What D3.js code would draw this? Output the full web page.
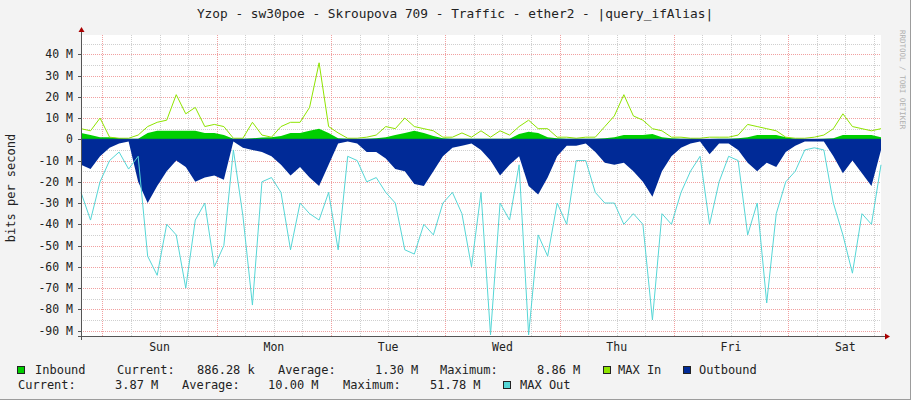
<!DOCTYPE html>
<html>
<head>
<meta charset="utf-8">
<script src="https://cdn.jsdelivr.net/npm/d3@7"></script>
<style>
  body { margin: 0; background: #f3f3f3; }
  svg { display: block; font-family: "DejaVu Sans Mono", monospace; }
</style>
</head>
<body>
<svg width="911" height="400"></svg>
<script>
// hours from start of graph, 2h steps, 0..168
const hours = d3.range(0, 169, 2);
const inbound = [3,2,1,1,0.5,0.3,0.3,3,4,4,4,4,4,3,3,2,0.3,0.3,0.5,0.8,1,1.5,3,3,4,5,3,0.5,0.3,0.2,0.3,0.5,1,2,3,4,3,1.5,0.5,0.3,0.3,0.3,0.3,0.3,0.3,0.3,2.5,3.5,3,1,0.5,0.3,0.3,0.3,0.3,0.5,1,2,2,2,2.5,1,0.5,0.3,0.3,0.2,0.2,0.3,0.3,0.5,1,2,2,2,1,0.3,0.2,0.2,0.3,0.5,2,2,2,2,1];
const maxIn = [5,4,10,1,0.5,0.5,2,6,8,9,21,12,15,6,7,6,0.5,0.5,8,2,1,6,8,8,15,36,6,3,0.5,0.5,1,2,6,5,10,6,5,4,1,1,3,1,4,1,4,2,6,9,5,5,1,1,0.5,1,1,6,11,21,11,9,5,4,1,1,0.5,0.5,1,1,1,2,7,6,5,4,1,0.5,0.5,1,2,5,12,6,5,4,5];
const outbound = [12,14,8,4,2,1,20,30,22,15,10,13,20,18,17,19,1,4,5,6,8,12,17,13,18,22,12,2,1,2,6,6,9,14,15,21,22,15,8,4,3,2,5,10,17,12,8,22,26,18,8,3,3,2,6,11,12,11,15,20,27,15,8,4,2,1,7,2,2,5,11,15,11,13,6,3,1,1,1,8,16,10,16,22,5];
const maxOut = [25,38,20,10,6,14,8,55,64,40,45,70,38,30,60,50,5,36,78,20,18,25,52,30,35,38,25,52,8,10,20,18,25,30,52,54,40,45,30,25,35,60,25,92,30,38,12,92,45,55,30,40,10,10,25,30,30,40,35,40,85,35,40,25,15,8,40,20,8,10,45,30,77,35,20,15,5,4,5,30,45,63,35,40,12];
const yTicks = [40,30,20,10,0,-10,-20,-30,-40,-50,-60,-70,-80,-90];
const days = ["Sun","Mon","Tue","Wed","Thu","Fri","Sat"];
const firstMidnight = 4.5; // hours after graph start

const svg = d3.select("svg");
const L = 81, R = 881, T = 35, B = 336;

const x = d3.scaleLinear().domain([0, 168]).range([L, R]);
const y = d3.scaleLinear().domain([0, 40]).range([139.3, 54.3]);

// frame
svg.append("rect").attr("x", 0).attr("y", 0).attr("width", 911).attr("height", 400).attr("fill", "#f3f3f3");
svg.append("line").attr("x1", 910.5).attr("x2", 910.5).attr("y1", 0).attr("y2", 400).attr("stroke", "#9c9c9c");
svg.append("line").attr("x1", 0).attr("x2", 911).attr("y1", 399.5).attr("y2", 399.5).attr("stroke", "#9c9c9c");
svg.append("rect").attr("x", L).attr("y", T).attr("width", R - L).attr("height", B - T).attr("fill", "#fff");

const grid = svg.append("g");
// minor horizontal every 5M
d3.range(-95, 50, 5).forEach(v => {
  if (y(v) < T || y(v) > B) return;
  const major = v % 10 === 0;
  grid.append("line").attr("x1", L).attr("x2", R).attr("y1", Math.round(y(v)) + 0.5).attr("y2", Math.round(y(v)) + 0.5)
    .attr("stroke", major ? "#f1a0a0" : "#cfcfcf").attr("stroke-dasharray", "1,1");
});
// vertical every 6h
d3.range(firstMidnight - 0, 168, 6).forEach(h => {
  const major = Math.abs((h - firstMidnight) % 24) < 0.01;
  grid.append("line").attr("x1", Math.round(x(h)) + 0.5).attr("x2", Math.round(x(h)) + 0.5).attr("y1", T).attr("y2", B)
    .attr("stroke", major ? "#f1a0a0" : "#cfcfcf").attr("stroke-dasharray", "1,1");
});

const idx = d3.range(hours.length);
const inArea = d3.area().x(i => x(hours[i])).y0(y(0)).y1(i => y(inbound[i]));
const outArea = d3.area().x(i => x(hours[i])).y0(y(0)).y1(i => y(-outbound[i]));
const maxInLine = d3.line().x(i => x(hours[i])).y(i => y(maxIn[i]));
const maxOutLine = d3.line().x(i => x(hours[i])).y(i => y(-maxOut[i]));

svg.append("path").datum(idx).attr("d", inArea).attr("fill", "#00cf00");
svg.append("path").datum(idx).attr("d", maxInLine).attr("fill", "none").attr("stroke", "#8ee400").attr("stroke-width", 1);
svg.append("path").datum(idx).attr("d", outArea).attr("fill", "#002a97");
svg.append("path").datum(idx).attr("d", maxOutLine).attr("fill", "none").attr("stroke", "#55d6d6").attr("stroke-width", 1);
svg.append("line").attr("x1", L).attr("x2", R).attr("y1", y(0)).attr("y2", y(0)).attr("stroke", "#002a97").attr("stroke-width", 1);

// axes
svg.append("line").attr("x1", L - 3).attr("x2", R + 4).attr("y1", B + 0.5).attr("y2", B + 0.5).attr("stroke", "#555");
svg.append("line").attr("x1", L + 0.5).attr("x2", L + 0.5).attr("y1", T - 3).attr("y2", B + 4).attr("stroke", "#555");
svg.append("path").attr("d", `M${R + 4},${B - 2.5}L${R + 9},${B + 0.5}L${R + 4},${B + 3.5}Z`).attr("fill", "#a00");
svg.append("path").attr("d", `M${L - 2.5},${T - 3}L${L + 0.5},${T - 8}L${L + 3.5},${T - 3}Z`).attr("fill", "#a00");

yTicks.forEach(v => {
  svg.append("text").attr("x", 73).attr("y", y(v) + 4).attr("text-anchor", "end").attr("font-size", 11.5).attr("fill", "#222")
    .text(v === 0 ? "0" : v + " M");
  svg.append("line").attr("x1", L - 3).attr("x2", L).attr("y1", Math.round(y(v)) + 0.5).attr("y2", Math.round(y(v)) + 0.5).attr("stroke", "#555");
});
days.forEach((d, i) => {
  svg.append("text").attr("x", x(firstMidnight + 12 + 24 * i)).attr("y", 351).attr("text-anchor", "middle")
    .attr("font-size", 11.5).attr("fill", "#222").text(d);
});

svg.append("text").attr("x", 455).attr("y", 18).attr("text-anchor", "middle").attr("font-size", 12.8).attr("fill", "#222")
  .text("Yzop - sw30poe - Skroupova 709 - Traffic - ether2 - |query_ifAlias|");
svg.append("text").attr("transform", "translate(15,188) rotate(-90)").attr("text-anchor", "middle").attr("font-size", 12).attr("fill", "#222")
  .text("bits per second");
svg.append("text").attr("transform", "translate(900,30) rotate(90)").attr("font-size", 7.5).attr("fill", "#b0b0b0")
  .text("RRDTOOL / TOBI OETIKER");

// legend
const leg = svg.append("g").attr("font-size", 12).attr("fill", "#222");
const sq = (xx, yy, c) => leg.append("rect").attr("x", xx + 0.5).attr("y", yy + 0.5).attr("width", 7).attr("height", 7).attr("fill", c).attr("stroke", "#222");
const tx = (xx, yy, s) => leg.append("text").attr("x", xx).attr("y", yy).text(s);
sq(17, 366, "#00cf00"); tx(35, 374, "Inbound");
tx(117, 374, "Current:"); tx(197, 374, "886.28 k");
tx(278, 374, "Average:"); tx(375, 374, "1.30 M");
tx(440, 374, "Maximum:"); tx(537, 374, "8.86 M");
sq(603, 366, "#8ee400"); tx(618, 374, "MAX In");
sq(683, 366, "#002a97"); tx(699, 374, "Outbound");
tx(18, 389, "Current:"); tx(115, 389, "3.87 M");
tx(182, 389, "Average:"); tx(268, 389, "10.00 M");
tx(343, 389, "Maximum:"); tx(430, 389, "51.78 M");
sq(503, 381, "#55d6d6"); tx(520, 389, "MAX Out");
</script>
</body>
</html>
